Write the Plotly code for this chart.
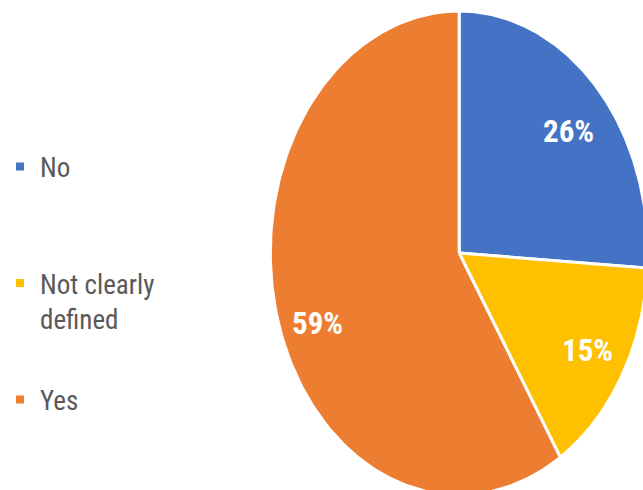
import numpy as np
import plotly.graph_objects as go

categories = ["No", "Not clearly defined", "Yes"]
legend_labels = ["No", "Not clearly<br>defined", "Yes"]
values = [26, 15, 59]
colors = ["#4472C4", "#FFC000", "#ED7D31"]

W, H = 643, 490
CX, CY = 458, 253      # pie centre (px)
RX, RY = 190, 242      # pie radii (px) - the picture is stretched vertically
FONT = "Roboto Condensed, Liberation Sans Narrow, sans-serif"
LABEL_R = 0.78
label_shift = [(2, -8), (2, -1), (0, -18)]   # fine pixel nudges of the % labels

fig = go.Figure()

total = sum(values)
start = 0.0
for i, (cat, v, c) in enumerate(zip(categories, values, colors)):
    frac = v / total
    t = np.linspace(start, start + frac, 200) * 2 * np.pi
    xs = np.concatenate([[0], np.sin(t), [0]])
    ys = np.concatenate([[0], np.cos(t), [0]])
    fig.add_trace(go.Scatter(
        x=xs, y=ys, mode="lines", fill="toself", fillcolor=c,
        line=dict(color="white", width=3), showlegend=False, hoverinfo="skip"))
    mid = (start + frac / 2) * 2 * np.pi
    fig.add_annotation(
        x=LABEL_R * np.sin(mid), y=LABEL_R * np.cos(mid), xref="x", yref="y",
        text=f"<b>{round(100 * frac)}%</b>", showarrow=False,
        xshift=label_shift[i][0], yshift=label_shift[i][1],
        font=dict(color="white", size=31, family=FONT))
    start += frac

legend_y = [167, 285, 400]
for i, (lab, c) in enumerate(zip(legend_labels, colors)):
    name = "legend" if i == 0 else f"legend{i + 1}"
    fig.add_trace(go.Scatter(
        x=[None], y=[None], mode="markers", name=lab,
        marker=dict(symbol="square", size=8, color=c), legend=name))

legend_font = dict(size=27, color="#595959", family=FONT)
leg_common = dict(xanchor="left", yanchor="middle", valign="top", font=legend_font,
                  bgcolor="rgba(0,0,0,0)", borderwidth=0, itemwidth=30)
LX = -4 / W
fig.update_layout(
    legend=dict(x=LX, y=1 - legend_y[0] / H, **leg_common),
    legend2=dict(x=LX, y=1 - (legend_y[1] + 16) / H, **leg_common),
    legend3=dict(x=LX, y=1 - legend_y[2] / H, **leg_common),
)

fig.update_xaxes(range=[-CX / RX, (W - CX) / RX], visible=False, fixedrange=True)
fig.update_yaxes(range=[-(H - CY) / RY, CY / RY], visible=False, fixedrange=True)
fig.update_layout(width=W, height=H, margin=dict(l=0, r=0, t=0, b=0),
                  paper_bgcolor="white", plot_bgcolor="white", showlegend=True)

fig.write_html("out.html", config={"displayModeBar": False},
               post_script="document.body.style.margin='0';")
